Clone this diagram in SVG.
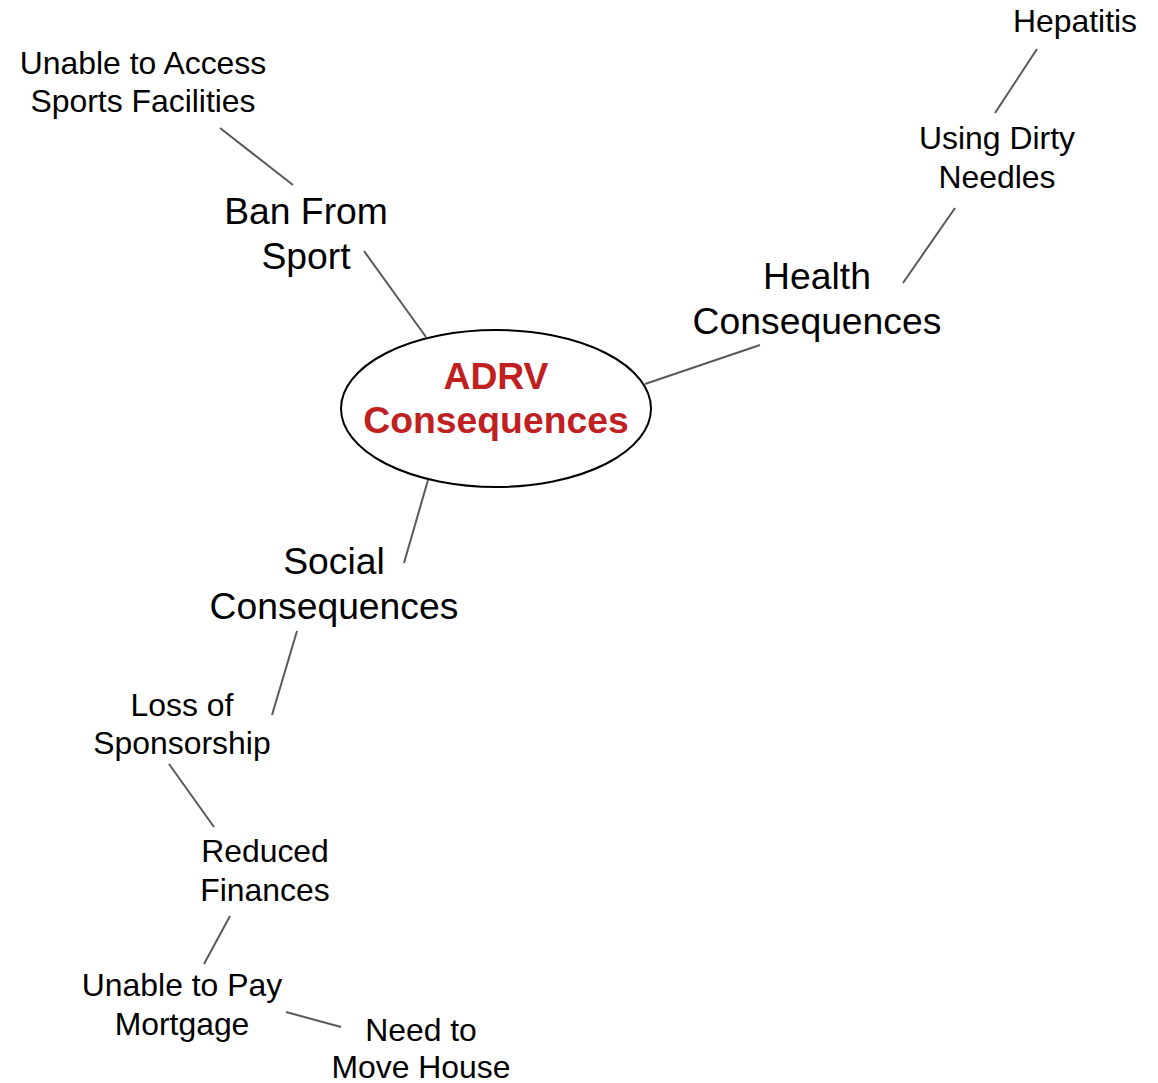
<svg xmlns="http://www.w3.org/2000/svg" width="1158" height="1083" viewBox="0 0 1158 1083">
<style>
text{font-family:"Liberation Sans",Arial,sans-serif;fill:#000;text-anchor:middle}
.l1{font-size:37.3px}
.l2{font-size:31.9px}
.root{font-size:37.3px;font-weight:bold;fill:#c0201f}
.c line{stroke:#595959;stroke-width:2}
</style>
<rect width="1158" height="1083" fill="#fff"/>
<g class="c" id="connectors">
<line x1="220" y1="128" x2="293" y2="185"/>
<line x1="364" y1="251" x2="426" y2="337"/>
<line x1="1037" y1="49" x2="995" y2="113"/>
<line x1="955" y1="208" x2="903" y2="283"/>
<line x1="760" y1="345" x2="645" y2="384"/>
<line x1="428" y1="480" x2="404" y2="563"/>
<line x1="297" y1="631" x2="272" y2="715"/>
<line x1="169" y1="764" x2="214" y2="827"/>
<line x1="230" y1="916" x2="204" y2="964"/>
<line x1="286" y1="1012" x2="341" y2="1027"/>
</g>
<g id="root">
<ellipse cx="496" cy="408.5" rx="155" ry="78.5" fill="#fff" stroke="#000" stroke-width="2"/>
<text class="root" x="496" y="389">ADRV</text>
<text class="root" x="496" y="433">Consequences</text>
</g>
<g id="ban"><text class="l1" x="306" y="224">Ban From</text><text class="l1" x="306" y="269">Sport</text></g>
<g id="access"><text class="l2" x="143" y="74">Unable to Access</text><text class="l2" x="143" y="112">Sports Facilities</text></g>
<g id="health"><text class="l1" x="817" y="289">Health</text><text class="l1" x="817" y="334">Consequences</text></g>
<g id="needles"><text class="l2" x="997" y="149">Using Dirty</text><text class="l2" x="997" y="188">Needles</text></g>
<g id="hepatitis"><text class="l2" x="1075" y="32">Hepatitis</text></g>
<g id="social"><text class="l1" x="334" y="574">Social</text><text class="l1" x="334" y="619">Consequences</text></g>
<g id="sponsorship"><text class="l2" x="182" y="716">Loss of</text><text class="l2" x="182" y="754">Sponsorship</text></g>
<g id="finances"><text class="l2" x="265" y="862">Reduced</text><text class="l2" x="265" y="901">Finances</text></g>
<g id="mortgage"><text class="l2" x="182" y="996">Unable to Pay</text><text class="l2" x="182" y="1035">Mortgage</text></g>
<g id="move"><text class="l2" x="421" y="1041">Need to</text><text class="l2" x="421" y="1078">Move House</text></g>
</svg>
